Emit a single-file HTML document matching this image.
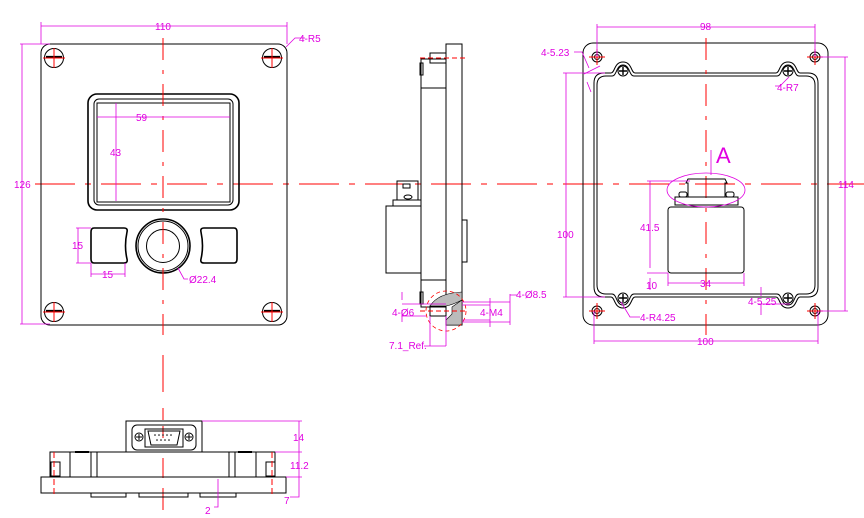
<!DOCTYPE html>
<html><head><meta charset="utf-8"><style>
html,body{margin:0;padding:0;background:#fff}
svg{display:block}
text{font-family:"Liberation Sans",sans-serif;font-size:10px;fill:#e000e0}
.k{fill:none;stroke:#000;stroke-width:1}
.k2{fill:none;stroke:#000;stroke-width:1.6}
.m{fill:none;stroke:#e000e0;stroke-width:0.8}
.r{fill:none;stroke:#ff0000;stroke-width:1}
.rd{fill:none;stroke:#ff0000;stroke-width:1;stroke-dasharray:40 10 6 10}
</style></head><body>
<svg width="864" height="518" viewBox="0 0 864 518" xmlns="http://www.w3.org/2000/svg">
<path class="rd" d="M35,184 H864"/>
<rect class="k" x="41" y="44" width="246" height="281" rx="9"/>
<g class="k">
<circle cx="54" cy="58" r="9.5"/><circle cx="272" cy="58" r="9.5"/>
<circle cx="54" cy="312" r="9.5"/><circle cx="272" cy="312" r="9.5"/>
</g>
<g stroke="#000" stroke-width="2.2">
<path d="M46,57 H62 M264,57 H280 M46,311 H62 M264,311 H280"/>
</g>
<g class="r">
<path d="M43,58 H65 M54,48 V68 M261,58 H283 M272,48 V68 M43,312 H65 M54,302 V322 M261,312 H283 M272,302 V322"/>
</g>
<rect class="k2" x="88" y="94" width="151" height="116" rx="9"/>
<rect class="k" x="94" y="99" width="139" height="106" rx="5"/>
<rect class="k" x="97" y="103" width="133" height="99"/>
<path class="k2" d="M94,228 H124 Q128,228 127,232 Q124,246 127,259 Q128,263 124,263 H94 Q91,263 91,259 V232 Q91,228 94,228 Z"/>
<path class="k2" d="M234,228 H204 Q200,228 201,232 Q204,246 201,259 Q200,263 204,263 H234 Q237,263 237,259 V232 Q237,228 234,228 Z"/>
<circle class="k2" cx="163" cy="246" r="27"/>
<circle class="k" cx="163" cy="246" r="25"/>
<circle class="k" cx="163" cy="246" r="16.5"/>
<path class="rd" d="M163,38 V335" style="stroke-dasharray:22 10 4 10"/>
<path class="r" d="M163,355 V392 M163,408 V420 M163,426 V438 M163,458 V478 M163,488 V510" />
<path class="m" d="M41,26 H287 M41,22 V44 M287,22 V44"/>
<path class="m" d="M22,44 V324 M20,44 H50 M20,324 H50"/>
<path class="m" d="M97,117 H230 M116,103 V201"/>
<path class="m" d="M78,228 V263 M76,228 H91 M76,263 H91 M91,274 H125 M91,263 V277 M125,263 V277"/>
<path class="m" d="M286,47 L295,38 H305 M178,268 L184,279 H188"/>
<text x="155" y="30">110</text>
<text x="14" y="188">126</text>
<text x="299" y="42">4-R5</text>
<text x="136" y="121">59</text>
<text x="110" y="156">43</text>
<text x="72" y="249">15</text>
<text x="102" y="278">15</text>
<text x="189" y="283">Ø22.4</text>
<rect class="k" x="446" y="44" width="16" height="281"/>
<rect class="k" x="421" y="59" width="25" height="248" fill="#fff"/>
<path class="k" d="M421,88 H446 M421,280 H446"/>
<rect class="k" x="430" y="53" width="16" height="10"/>
<rect class="k" x="420" y="63" width="3" height="12"/>
<path class="r" d="M420,58 H468" style="stroke-dasharray:5 3"/>
<rect class="k" x="386" y="206" width="35" height="67"/>
<rect class="k" x="393" y="200" width="28" height="6"/>
<rect class="k" x="397" y="181" width="21" height="19"/>
<rect class="k" x="403" y="184" width="7" height="4"/>
<ellipse class="k" cx="408" cy="197" rx="4" ry="2"/>
<path class="k" d="M462,220 H467 V262 H462"/>
<rect class="k" x="420" y="292" width="3" height="12"/>
<rect class="k" x="430" y="306" width="16" height="10"/>
<path d="M430,306 Q438,293 462,292 V300 Q452,305 446,306 Z" fill="#bbb" stroke="#000" stroke-width="0.6"/>
<path d="M446,320 L452,314 V307 L462,300 V325 H446 Z" fill="#bbb" stroke="#000" stroke-width="0.6"/>
<circle cx="446" cy="311" r="20" fill="none" stroke="#ff0000" stroke-width="0.8" stroke-dasharray="4 3"/>
<path class="r" d="M420,311 H468" style="stroke-dasharray:5 3"/>
<path class="m" d="M402,292 V300 M402,310 V322 M402,304 H446 M402,316 H426"/>
<path class="m" d="M462,305 H490 M462,320 H490 M490,298 V327 M462,302 H510 M462,322 H510 M510,294 V325 L510,295 H517"/>
<path class="m" d="M430,316 V346 M446,316 V346 M424,346 H446"/>
<text x="392" y="316">4-Ø6</text>
<text x="480" y="316">4-M4</text>
<text x="516" y="298">4-Ø8.5</text>
<text x="389" y="349">7.1_Ref.</text>
<rect class="k" x="583" y="43" width="245" height="282" rx="10"/>
<path class="k" d="M604,73 L611,73 C615,73 614,62 623,62 C632,62 631,73 635,73 L776,73 C780,73 779,62 788,62 C797,62 796,73 800,73 L808,73 Q818,73 818,83 L818,287 Q818,297 808,297 L800,297 C796,297 797,308 788,308 C779,308 780,297 776,297 L635,297 C631,297 632,308 623,308 C614,308 615,297 611,297 L604,297 Q594,297 594,287 L594,83 Q594,73 604,73 Z"/>
<path class="k" d="M606,76 L612,76 C617,76 616,65 623,65 C630,65 629,76 634,76 L777,76 C782,76 781,65 788,65 C795,65 794,76 799,76 L806,76 Q815,76 815,85 L815,285 Q815,294 806,294 L799,294 C794,294 795,305 788,305 C781,305 782,294 777,294 L634,294 C629,294 630,305 623,305 C616,305 617,294 612,294 L606,294 Q597,294 597,285 L597,85 Q597,76 606,76 Z"/>
<g class="k">
<circle cx="623" cy="71" r="5"/><circle cx="788" cy="71" r="5"/><circle cx="623" cy="298" r="5"/><circle cx="788" cy="298" r="5"/>
<path d="M619,71 H627 M623,67 V75 M784,71 H792 M788,67 V75 M619,298 H627 M623,294 V302 M784,298 H792 M788,294 V302" stroke-width="1.4"/>
<circle cx="597" cy="57" r="5"/><circle cx="597" cy="57" r="2.5"/>
<circle cx="815" cy="57" r="5"/><circle cx="815" cy="57" r="2.5"/>
<circle cx="597" cy="311" r="5"/><circle cx="597" cy="311" r="2.5"/>
<circle cx="815" cy="311" r="5"/><circle cx="815" cy="311" r="2.5"/>
</g>
<path class="r" d="M589,57 H605 M597,49 V65 M807,57 H823 M815,49 V65 M589,311 H605 M597,303 V319 M807,311 H823 M815,303 V319"/>
<path class="rd" d="M706,38 V335" style="stroke-dasharray:22 10 4 10"/>
<rect class="k" x="668" y="207" width="76" height="66" rx="3"/>
<rect class="k" x="675" y="197" width="63" height="8"/>
<rect class="k" x="679" y="192" width="8" height="5" rx="2"/>
<rect class="k" x="726" y="192" width="8" height="5" rx="2"/>
<path class="k" d="M688,197 V183 H686 L688,179 H725 L727,183 H725 V197"/>
<ellipse cx="706" cy="190" rx="39" ry="17" fill="none" stroke="#e000e0" stroke-width="0.8"/>
<path class="m" d="M711,150 V175"/>
<text x="716" y="163" style="font-size:22px">A</text>
<path class="m" d="M597,27 H815 M597,24 V57 M815,24 V57"/>
<path class="m" d="M845,57 V311 M820,57 H848 M820,311 H848"/>
<path class="m" d="M566,73 V297 M563,73 H605 M563,297 H605"/>
<path class="m" d="M594,341 H818 M594,311 V344 M818,311 V344"/>
<path class="m" d="M650,181 V268 M647,181 H690 M647,273 H668 M650,278 V290 M668,283 H744 M668,273 V286 M744,273 V286"/>
<path class="m" d="M761,287 V296 M761,304 V315 M758,304 H790"/>
<path class="m" d="M621,302 L630,317 H640 M789,77 L780,86 H775 M574,52 L582,52 L589,68 M584,74 L600,66 M587,82 L591,92"/>
<text x="700" y="30">98</text>
<text x="838" y="188">114</text>
<text x="557" y="238">100</text>
<text x="697" y="345">100</text>
<text x="640" y="231">41.5</text>
<text x="646" y="289">10</text>
<text x="700" y="287">34</text>
<text x="748" y="305">4-5.25</text>
<text x="640" y="321">4-R4.25</text>
<text x="777" y="91">4-R7</text>
<text x="541" y="56">4-5.23</text>
<rect class="k" x="41" y="477" width="245" height="16"/>
<rect class="k" x="50" y="452" width="225" height="25"/>
<path class="k" d="M70,452 V477 M91,452 V477 M97,452 V477 M229,452 V477 M235,452 V477 M256,452 V477"/>
<rect x="75" y="451" width="14" height="2" fill="#000"/>
<rect x="238" y="451" width="14" height="2" fill="#000"/>
<rect class="k" x="51" y="462" width="9" height="14"/>
<rect class="k" x="266" y="462" width="9" height="14"/>
<path class="r" d="M54,452 V497 M272,452 V497" style="stroke-dasharray:6 3"/>
<rect class="k" x="126" y="421" width="76" height="31"/>
<rect class="k" x="132" y="425" width="64" height="25" rx="5"/>
<path class="k" d="M145,429 H183 V447 H145 Z"/>
<path class="k" d="M148,431 H180 L177,445 H151 Z"/>
<circle class="k" cx="139" cy="437" r="4"/><circle class="k" cx="189" cy="437" r="4"/>
<path class="k" d="M136,437 H142 M139,434 V440 M186,437 H192 M189,434 V440"/>
<g fill="#000"><circle cx="155" cy="435" r="0.8"/><circle cx="159" cy="435" r="0.8"/><circle cx="163" cy="435" r="0.8"/><circle cx="167" cy="435" r="0.8"/><circle cx="171" cy="435" r="0.8"/><circle cx="157" cy="440" r="0.8"/><circle cx="161" cy="440" r="0.8"/><circle cx="165" cy="440" r="0.8"/><circle cx="169" cy="440" r="0.8"/></g>
<path class="k" d="M91,493 V497 H126 V493 M139,493 V497 H188 V493 M200,493 V497 H236 V493"/>
<path class="m" d="M202,421 H302 M275,452 H302 M286,477 H302 M299,421 V497 H290 M218,479 V507 H214"/>
<text x="293" y="441">14</text>
<text x="290" y="469">11.2</text>
<text x="284" y="504">7</text>
<text x="205" y="514">2</text>
</svg>
</body></html>
